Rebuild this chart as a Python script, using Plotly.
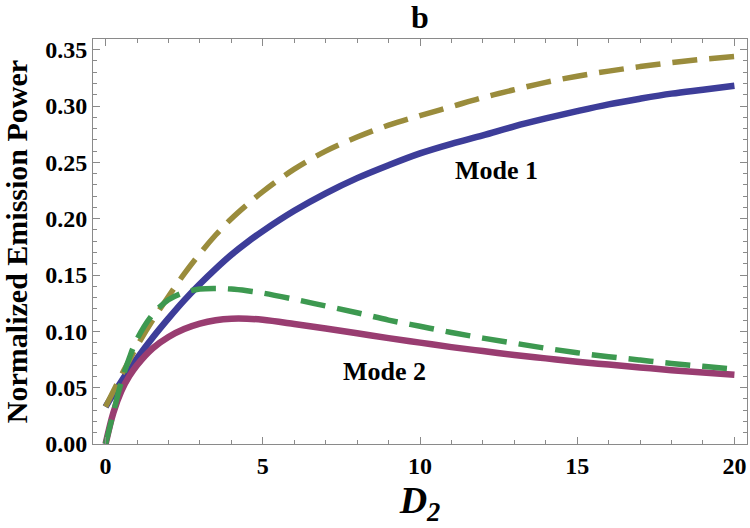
import plotly.graph_objects as go

# ---- data ----
d2 = [0, 0.25, 0.5, 0.75, 1, 1.5, 2, 2.5, 3, 3.5, 4, 4.5, 5, 6, 7, 8, 9, 10,
      11, 12, 13, 14, 15, 16, 17, 18, 19, 20]

mode1_solid = [0.033, 0.0445, 0.0555, 0.066, 0.076, 0.0945, 0.1115, 0.1275, 0.142,
               0.1555, 0.168, 0.179, 0.189, 0.207, 0.2225, 0.236, 0.2475, 0.258,
               0.2665, 0.274, 0.282, 0.289, 0.2955, 0.3015, 0.3065, 0.311, 0.3145, 0.318]

mode1_dashed = [0.033, 0.047, 0.061, 0.074, 0.087, 0.110, 0.131, 0.151, 0.169,
                0.1855, 0.2, 0.2125, 0.224, 0.244, 0.260, 0.2725, 0.283, 0.2915,
                0.2995, 0.3075, 0.3145, 0.321, 0.3265, 0.331, 0.335, 0.3385, 0.3415, 0.344]

mode2_solid = [0.0, 0.028, 0.047, 0.060, 0.070, 0.085, 0.095, 0.102, 0.1068,
               0.1098, 0.1112, 0.1112, 0.1102, 0.1065, 0.1025, 0.0983, 0.094, 0.090,
               0.086, 0.0825, 0.079, 0.076, 0.073, 0.0705, 0.068, 0.0655, 0.0635, 0.0615]

mode2_dashed = [0.0, 0.028, 0.055, 0.076, 0.093, 0.115, 0.128, 0.1345, 0.1375,
                0.138, 0.1375, 0.136, 0.134, 0.1285, 0.1225, 0.1165, 0.110, 0.1045,
                0.099, 0.094, 0.0895, 0.085, 0.081, 0.0775, 0.0745, 0.0715, 0.069, 0.0665]

x_ticks = [0, 5, 10, 15, 20]
y_ticks = [0.00, 0.05, 0.10, 0.15, 0.20, 0.25, 0.30, 0.35]
y_tick_labels = ["0.00", "0.05", "0.10", "0.15", "0.20", "0.25", "0.30", "0.35"]

FONT = "Liberation Serif"

fig = go.Figure()
fig.add_trace(go.Scatter(x=d2, y=mode1_solid, mode="lines", line_shape="spline",
                         line=dict(color="#3D3D99", width=6.5), showlegend=False))
fig.add_trace(go.Scatter(x=d2, y=mode2_solid, mode="lines", line_shape="spline",
                         line=dict(color="#993D71", width=6.5), showlegend=False))
fig.add_trace(go.Scatter(x=d2, y=mode1_dashed, mode="lines", line_shape="spline",
                         line=dict(color="#9A8C3C", width=5.5, dash="25px,12px"),
                         showlegend=False))
fig.add_trace(go.Scatter(x=d2, y=mode2_dashed, mode="lines", line_shape="spline",
                         line=dict(color="#3D9950", width=5.5, dash="25px,12px"),
                         showlegend=False))

fig.add_annotation(x=12.42, y=0.2432, text="<b>Mode 1</b>", showarrow=False,
                   font=dict(family=FONT, size=26, color="black"))
fig.add_annotation(x=8.87, y=0.0648, text="<b>Mode 2</b>", showarrow=False,
                   font=dict(family=FONT, size=26, color="black"))

axis_common = dict(
    showline=True, linecolor="#8a8a8a", linewidth=1, mirror="allticks",
    ticks="inside", tickcolor="#8a8a8a", ticklen=7, tickwidth=1,
    showgrid=False, zeroline=False,
    tickfont=dict(family=FONT, size=24, color="black", weight="bold"),
)

fig.update_xaxes(
    range=[-0.4, 20.4], tickvals=x_ticks, ticktext=[str(v) for v in x_ticks],
    minor=dict(ticks="inside", dtick=1, tick0=0, ticklen=4, tickcolor="#8a8a8a"),
    title=dict(text="<i><b>D</b><sub><b>2</b></sub></i>",
               font=dict(family=FONT, size=38, color="black"), standoff=8),
    **axis_common)
fig.update_yaxes(
    range=[0, 0.3595], tickvals=y_ticks, ticktext=y_tick_labels,
    minor=dict(ticks="inside", dtick=0.01, tick0=0, ticklen=4, tickcolor="#8a8a8a"),
    title=dict(text="<b>Normalized Emission Power</b>",
               font=dict(family=FONT, size=30, color="black"), standoff=10),
    **axis_common)

fig.update_layout(
    width=750, height=528,
    margin=dict(l=93, r=3, t=39, b=84),
    paper_bgcolor="white", plot_bgcolor="white",
    title=dict(text="<b>b</b>", x=0.5, xref="paper", y=0.968, yref="container",
               yanchor="middle", xanchor="center",
               font=dict(family=FONT, size=32, color="black")),
)

fig.write_html("out.html")
